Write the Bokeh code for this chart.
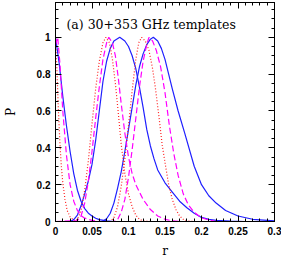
import numpy as np
from bokeh.plotting import figure
from bokeh.models import Range1d, FixedTicker, LinearAxis, Label
from bokeh.embed import file_html
from bokeh.resources import INLINE

# ---------------- data ----------------
# curves peaked at r = 0
blue_a_r = [0.0, 0.005, 0.01, 0.015, 0.02, 0.025, 0.03, 0.035, 0.04, 0.045, 0.05, 0.055, 0.06, 0.07, 0.08, 0.3]
blue_a_p = [1.0, 0.86, 0.68, 0.52, 0.38, 0.26, 0.17, 0.11, 0.07, 0.045, 0.03, 0.018, 0.01, 0.003, 0.0, 0.0]

mag_a_r = [0.0, 0.003, 0.006, 0.01, 0.015, 0.02, 0.025, 0.03, 0.035, 0.04, 0.05, 0.06, 0.3]
mag_a_p = [0.96, 1.0, 0.86, 0.6, 0.36, 0.2, 0.11, 0.06, 0.032, 0.018, 0.006, 0.0, 0.0]

red_a_r = [0.0, 0.002, 0.004, 0.006, 0.008, 0.01, 0.013, 0.016, 0.02, 0.025, 0.03, 0.3]
red_a_p = [1.0, 0.82, 0.6, 0.43, 0.3, 0.21, 0.12, 0.06, 0.025, 0.008, 0.0, 0.0]

# curves peaked near r = 0.07 - 0.09
blue_b_r = [0.0, 0.02, 0.025, 0.03, 0.035, 0.04, 0.045, 0.05, 0.055, 0.06, 0.065, 0.07, 0.075,
            0.08, 0.088, 0.095, 0.1, 0.105, 0.11, 0.115, 0.12, 0.125, 0.13, 0.135, 0.14, 0.15,
            0.16, 0.17, 0.18, 0.19, 0.2, 0.21, 0.22, 0.24, 0.26, 0.3]
blue_b_p = [0.0, 0.0, 0.01, 0.035, 0.085, 0.15, 0.22, 0.31, 0.44, 0.6, 0.76, 0.87, 0.94,
            0.98, 1.0, 0.98, 0.95, 0.9, 0.83, 0.73, 0.62, 0.5, 0.41, 0.34, 0.28, 0.21,
            0.16, 0.11, 0.075, 0.045, 0.022, 0.012, 0.006, 0.002, 0.0, 0.0]

mag_b_r = [0.0, 0.03, 0.035, 0.04, 0.045, 0.05, 0.055, 0.06, 0.065, 0.07, 0.073, 0.078, 0.082,
           0.086, 0.09, 0.095, 0.1, 0.105, 0.11, 0.12, 0.13, 0.14, 0.15, 0.16, 0.17, 0.3]
mag_b_p = [0.0, 0.005, 0.03, 0.1, 0.22, 0.38, 0.56, 0.73, 0.88, 0.97, 1.0, 0.97, 0.9,
           0.78, 0.64, 0.48, 0.35, 0.26, 0.2, 0.12, 0.065, 0.03, 0.012, 0.004, 0.0, 0.0]

red_b_r = [0.0, 0.025, 0.03, 0.035, 0.04, 0.045, 0.05, 0.055, 0.06, 0.065, 0.069, 0.074, 0.078,
           0.082, 0.086, 0.09, 0.095, 0.1, 0.105, 0.11, 0.115, 0.12, 0.13, 0.3]
red_b_p = [0.0, 0.0, 0.01, 0.06, 0.17, 0.33, 0.53, 0.72, 0.87, 0.97, 1.0, 0.97, 0.88,
           0.75, 0.59, 0.42, 0.26, 0.15, 0.08, 0.035, 0.012, 0.003, 0.0, 0.0]

# curves peaked near r = 0.12 - 0.13
blue_c_r = [0.0, 0.064, 0.07, 0.075, 0.08, 0.085, 0.09, 0.095, 0.1, 0.105, 0.11, 0.115, 0.12,
            0.125, 0.13, 0.134, 0.14, 0.145, 0.15, 0.155, 0.16, 0.168, 0.177, 0.19, 0.2, 0.21,
            0.22, 0.233, 0.25, 0.27, 0.3]
blue_c_p = [0.0, 0.0, 0.015, 0.045, 0.1, 0.18, 0.27, 0.38, 0.5, 0.62, 0.74, 0.84, 0.91,
            0.96, 0.99, 1.0, 0.98, 0.94, 0.88, 0.8, 0.72, 0.6, 0.48, 0.3, 0.2, 0.14,
            0.1, 0.06, 0.03, 0.012, 0.003]

mag_c_r = [0.0, 0.08, 0.085, 0.09, 0.095, 0.1, 0.105, 0.11, 0.115, 0.12, 0.125, 0.128, 0.133,
           0.138, 0.144, 0.15, 0.156, 0.162, 0.168, 0.175, 0.182, 0.19, 0.2, 0.21, 0.22, 0.3]
mag_c_p = [0.0, 0.0, 0.01, 0.05, 0.12, 0.24, 0.39, 0.56, 0.73, 0.87, 0.96, 1.0, 0.98,
           0.93, 0.84, 0.7, 0.52, 0.37, 0.25, 0.15, 0.09, 0.05, 0.02, 0.008, 0.0, 0.0]

red_c_r = [0.0, 0.075, 0.08, 0.085, 0.09, 0.095, 0.1, 0.105, 0.11, 0.114, 0.118, 0.123, 0.128,
           0.133, 0.137, 0.142, 0.146, 0.15, 0.155, 0.16, 0.165, 0.17, 0.175, 0.18, 0.19, 0.3]
red_c_p = [0.0, 0.0, 0.02, 0.08, 0.19, 0.34, 0.52, 0.71, 0.88, 0.97, 1.0, 0.98, 0.93,
           0.83, 0.72, 0.56, 0.42, 0.32, 0.2, 0.12, 0.065, 0.03, 0.012, 0.003, 0.0, 0.0]

x_ticks = [0, 0.05, 0.1, 0.15, 0.2, 0.25, 0.3]
x_tick_labels = ["0", "0.05", "0.1", "0.15", "0.2", "0.25", "0.3"]
y_ticks = [0, 0.2, 0.4, 0.6, 0.8, 1.0]
y_tick_labels = ["0", "0.2", "0.4", "0.6", "0.8", "1"]
title_text = "(a) 30+353 GHz templates"
x_label = "r"
y_label = "P"

# ---------------- figure ----------------
p = figure(width=281, height=260, output_backend="svg", toolbar_location=None,
           x_range=Range1d(0, 0.3), y_range=Range1d(0, 1.189),
           min_border_left=51, min_border_right=7, min_border_top=2, min_border_bottom=38,
           background_fill_color="white", border_fill_color="white")
p.grid.visible = False
p.outline_line_color = "black"
p.outline_line_width = 1

x_minor = [round(v, 3) for v in np.arange(0, 0.3001, 0.01)]
y_minor = [round(v, 3) for v in np.arange(0, 1.19, 0.05)]


def style_axis(ax, ticker):
    ax.ticker = ticker
    ax.major_tick_in = 6
    ax.major_tick_out = 0
    ax.minor_tick_in = 3
    ax.minor_tick_out = 0
    ax.axis_line_color = "black"
    ax.major_tick_line_color = "black"
    ax.minor_tick_line_color = "black"


xaxis = p.xaxis[0]
yaxis = p.yaxis[0]
style_axis(xaxis, FixedTicker(ticks=x_ticks, minor_ticks=x_minor))
style_axis(yaxis, FixedTicker(ticks=y_ticks, minor_ticks=y_minor))
xaxis.major_label_overrides = {t: l for t, l in zip(x_ticks, x_tick_labels)}
yaxis.major_label_overrides = {t: l for t, l in zip(y_ticks, y_tick_labels)}
for ax in (xaxis, yaxis):
    ax.major_label_text_font = "Liberation Sans"
    ax.major_label_text_font_style = "bold"
    ax.major_label_text_font_size = "10px"
    ax.major_label_text_color = "black"
    ax.major_label_standoff = 5
    ax.axis_label_text_font = "DejaVu Serif"
    ax.axis_label_text_font_style = "normal"
    ax.axis_label_text_font_size = "12px"
    ax.axis_label_text_color = "black"
xaxis.axis_label = x_label
yaxis.axis_label = y_label
xaxis.axis_label_standoff = 6
yaxis.axis_label_standoff = 16

# mirror ticks (no labels) on top and right: ticks only, given as minor ticks
for side, majors, minors in (("above", x_ticks, x_minor), ("right", y_ticks, y_minor)):
    small = LinearAxis(ticker=FixedTicker(ticks=[], minor_ticks=minors))
    big = LinearAxis(ticker=FixedTicker(ticks=[], minor_ticks=majors))
    for ax, ln in ((small, 3), (big, 6)):
        ax.major_tick_in = 0
        ax.major_tick_out = 0
        ax.minor_tick_in = ln
        ax.minor_tick_out = 0
        ax.major_label_standoff = 0
        ax.axis_line_color = "black"
        ax.minor_tick_line_color = "black"
        p.add_layout(ax, side)

blue = "#1f1fff"
mag = "#ff00ff"
red = "#ff2020"

p.line(blue_a_r, blue_a_p, line_color=blue, line_width=1.2)
p.line(blue_b_r, blue_b_p, line_color=blue, line_width=1.2)
p.line(blue_c_r, blue_c_p, line_color=blue, line_width=1.2)
p.line(red_a_r, red_a_p, line_color=red, line_width=1.2, line_dash="1 2")
p.line(red_b_r, red_b_p, line_color=red, line_width=1.2, line_dash="1 2")
p.line(red_c_r, red_c_p, line_color=red, line_width=1.2, line_dash="1 2")
p.line(mag_a_r, mag_a_p, line_color=mag, line_width=1.2, line_dash="6 3")
p.line(mag_b_r, mag_b_p, line_color=mag, line_width=1.2, line_dash="6 3")
p.line(mag_c_r, mag_c_p, line_color=mag, line_width=1.2, line_dash="6 3")

p.add_layout(Label(x=0.015, y=1.07, text=title_text, text_font="DejaVu Serif",
                   text_font_size="12.5px", text_color="black", text_baseline="alphabetic"))

open("out.html", "w").write(file_html(p, INLINE))
